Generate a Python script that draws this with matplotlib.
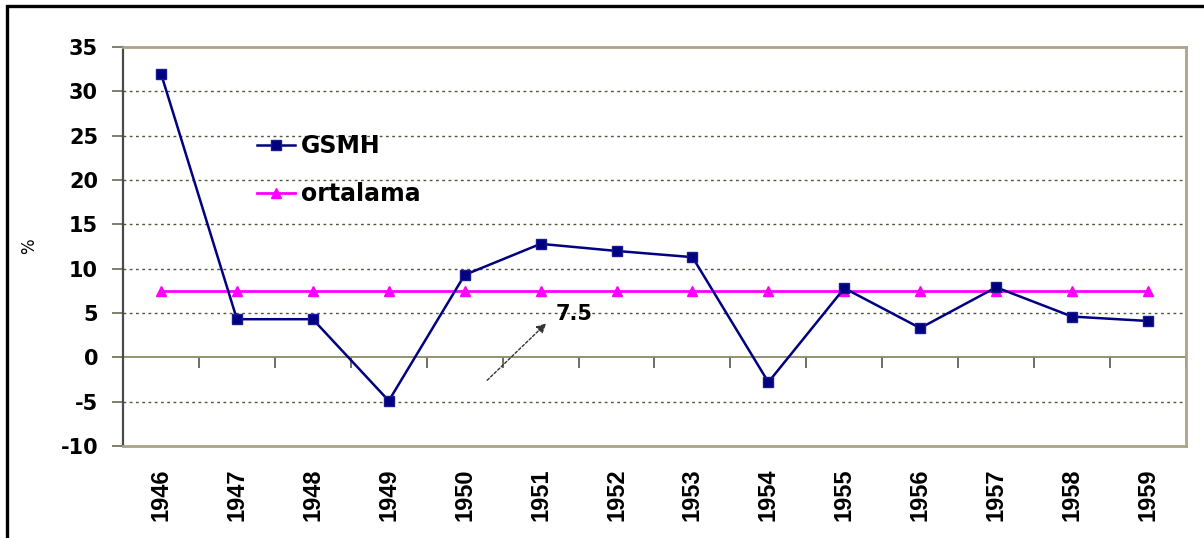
import numpy as np
import matplotlib.pyplot as plt
from matplotlib.patches import Rectangle

years = ['1946', '1947', '1948', '1949', '1950', '1951', '1952',
         '1953', '1954', '1955', '1956', '1957', '1958', '1959']
gsmh = [32.0, 4.3, 4.3, -4.9, 9.3, 12.8, 12.0, 11.3, -2.8, 7.8, 3.3, 7.9, 4.6, 4.1]
ortalama = [7.5] * len(years)
avg_label = '7.5'

OLIVE = '#aaa48a'
GRID = '#55553f'

plt.rcParams['font.family'] = ['DejaVu Sans']
plt.rcParams['axes.unicode_minus'] = False

fig = plt.figure(figsize=(12.04, 5.38), dpi=100)
ax = fig.add_axes([0.1022, 0.171, 0.8828, 0.7416])

xs = np.arange(len(years))
ax.plot(xs, gsmh, color='#000080', lw=1.8, marker='s', markersize=7,
        markerfacecolor='#000080', markeredgecolor='#1a1a90', label='GSMH', zorder=4)
ax.plot(xs, ortalama, color='#ff00ff', lw=2, marker='^', markersize=7.5,
        markeredgecolor='#ff00ff', label='ortalama', zorder=3)

ax.set_xlim(-0.5, len(years) - 0.5)
ax.set_ylim(-10, 35)
ax.set_yticks(np.arange(-10, 36, 5))

# dotted grid, solid line at zero acts as the category axis
for y in np.arange(-5, 35, 5):
    if y == 0:
        continue
    ax.axhline(y, color=GRID, lw=1, ls=(0, (2, 2.5)), zorder=1)
ax.axhline(0, color='#8c8a66', lw=1.3, zorder=2)

for side in ['top', 'right', 'bottom']:
    ax.spines[side].set_color(OLIVE)
    ax.spines[side].set_linewidth(2)
ax.spines['left'].set_color('#4a4a4a')
ax.spines['left'].set_linewidth(1.6)

ax.tick_params(axis='y', length=8, width=1.2, color='#6a6a50', pad=10,
               labelsize=15)
for lab in ax.get_yticklabels():
    lab.set_fontweight('bold')

ax.set_xticks(xs)
ax.set_xticklabels(years, rotation=90, fontsize=17, fontweight='bold',
                   family=['Liberation Sans', 'DejaVu Sans'])
ax.tick_params(axis='x', length=0, pad=16)

# tick marks between categories on the zero line
sec = ax.secondary_xaxis(10 / 45)
sec.set_xticks(np.arange(len(years) + 1) - 0.5)
sec.tick_params(length=8, width=1.2, color='#555545', labelbottom=False, labeltop=False)
sec.spines['bottom'].set_visible(False)
sec.spines['top'].set_visible(False)

ax.set_ylabel('%', fontsize=12, labelpad=16)

ax.annotate('', xy=(5.1, 4.05), xytext=(4.27, -2.8),
            arrowprops=dict(arrowstyle='-|>', color='#333333', lw=1,
                            ls=(0, (2, 1.5)), mutation_scale=14))
ax.text(5.2, 4.9, avg_label, fontsize=15, fontweight='bold', va='center', ha='left')

ax.legend(loc='upper left', bbox_to_anchor=(0.196, 0.79), bbox_transform=fig.transFigure,
          frameon=False, prop=dict(weight='bold', size=17),
          handlelength=1.6, labelspacing=1.0, handletextpad=0.25)

fig.patches.append(Rectangle((0.0062, -0.2), 1.2, 1.188, transform=fig.transFigure,
                             fill=False, edgecolor='black', lw=2.4))

fig.savefig('out.png', dpi=100)
